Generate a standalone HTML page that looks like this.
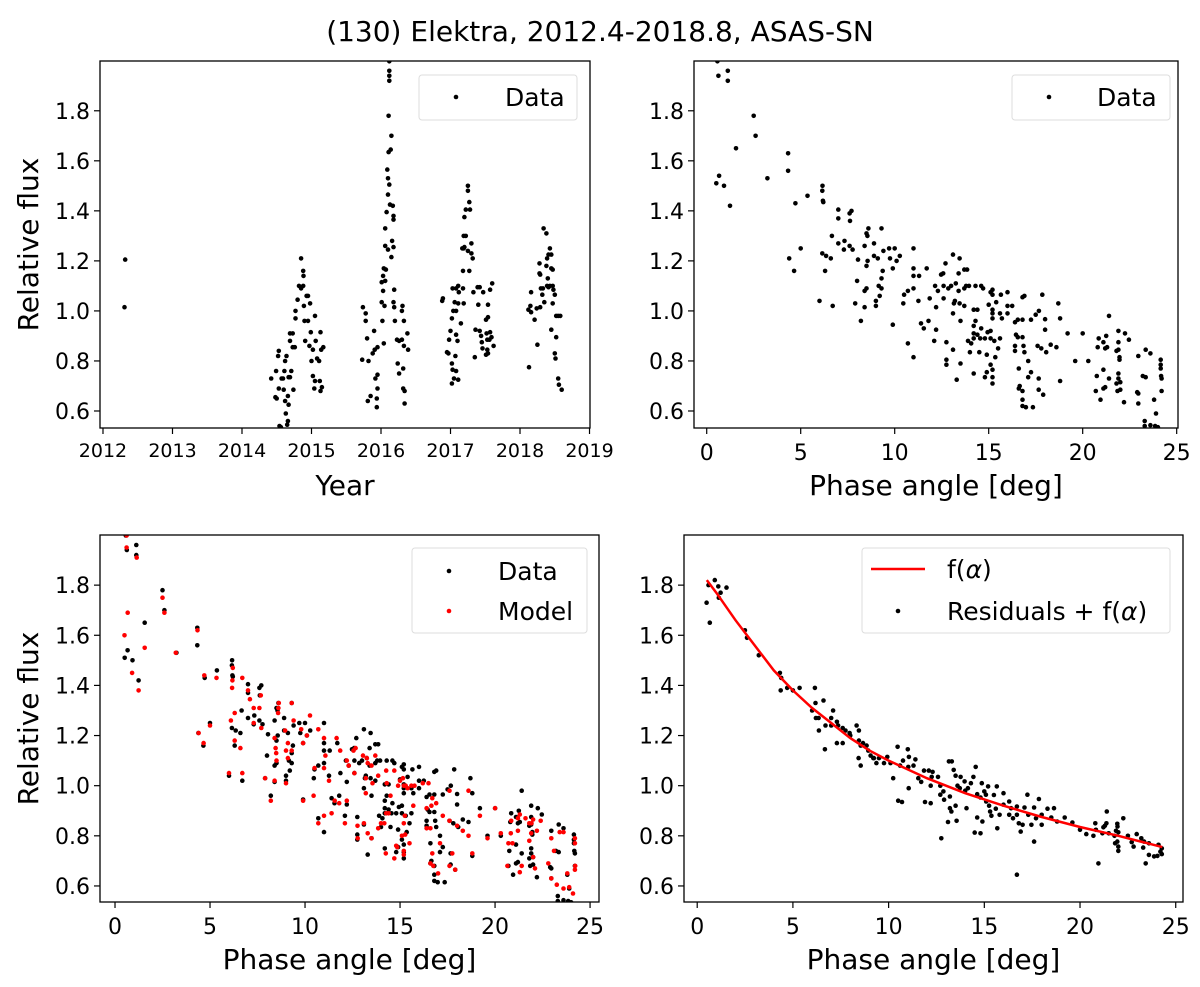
<!DOCTYPE html>
<html><head><meta charset="utf-8"><style>
html,body{margin:0;padding:0;background:#fff}
svg{display:block;font-family:"DejaVu Sans","Liberation Sans",sans-serif}
</style></head><body>
<svg id="fig" width="1200" height="987" viewBox="0 0 1200 987" xmlns="http://www.w3.org/2000/svg">
<text x="600" y="41" font-size="28" text-anchor="middle">(130) Elektra, 2012.4-2018.8, ASAS-SN</text>
</svg>
<script>
// ---- data ----
const yearT = [2012.32,2012.31,2014.42,2014.49,2014.53,2014.52,2014.48,2014.5,2014.53,2014.57,2014.59,2014.61,2014.62,2014.64,2014.67,2014.69,2014.66,2014.67,2014.62,2014.63,2014.6,2014.74,2014.71,2014.54,2014.56,2014.65,2014.66,2014.69,2014.69,2014.73,2014.73,2014.76,2014.77,2014.77,2014.8,2014.82,2014.85,2014.88,2014.885,2014.88,2014.85,2014.89,2014.9,2014.95,2014.93,2014.95,2014.98,2014.91,2014.97,2015.05,2015.0,2014.99,2015.06,2015.02,2015.13,2015.17,2015.14,2015.08,2015.11,2015.02,2015.05,2015.12,2015.04,2015.13,2015.15,
2015.73,2015.82,2015.74,2015.78,2015.78,2015.8,2015.81,2015.85,2015.9,2015.88,2015.91,2015.95,2015.92,2015.95,2015.95,2015.94,2015.94,2016.02,2016.04,2016.01,2016.03,2016.05,2016.01,2016.06,2016.03,2016.04,2016.07,2016.06,2016.06,2016.1,2016.08,2016.1,2016.09,2016.1,2016.12,2016.11,2016.14,2016.15,2016.11,2016.12,2016.12,2016.12,2016.12,2016.13,2016.17,2016.18,2016.18,2016.16,2016.18,2016.15,2016.19,2016.18,2016.19,2016.2,2016.23,2016.26,2016.3,2016.24,2016.32,2016.26,2016.3,2016.31,2016.33,2016.33,2016.38,2016.39,2016.32,2016.34,2016.34,
2016.89,2016.88,2016.95,2016.98,2017.0,2017.02,2017.03,2017.02,2017.05,2017.11,2017.08,2016.97,2017.07,2017.1,2017.08,2017.02,2017.04,2017.06,2017.08,2017.11,2017.03,2017.08,2017.11,2017.12,2017.15,2017.19,2017.18,2017.18,2017.27,2017.17,2017.19,2017.2,2017.19,2017.22,2017.2,2017.22,2017.28,2017.27,2017.25,2017.25,2017.3,2017.25,2017.3,2017.32,2017.33,2017.35,2017.36,2017.4,2017.39,2017.42,2017.42,2017.44,2017.45,2017.46,2017.47,2017.51,2017.52,2017.53,2017.51,2017.53,2017.54,2017.54,2017.54,2017.57,2017.6,2017.57,2017.59,2017.56,2017.62,
2018.13,2018.12,2018.16,2018.15,2018.16,2018.21,2018.25,2018.24,2018.29,2018.28,2018.29,2018.28,2018.3,2018.32,2018.33,2018.35,2018.34,2018.38,2018.38,2018.39,2018.41,2018.43,2018.45,2018.39,2018.41,2018.43,2018.4,2018.45,2018.47,2018.47,2018.48,2018.5,2018.47,2018.52,2018.55,2018.58,2018.45,2018.52,2018.5,2018.51,2018.55,2018.56,2018.6];
const yearFlux = [1.205,1.015,0.73,0.76,0.84,0.82,0.655,0.65,0.69,0.73,0.73,0.76,0.80,0.82,0.735,0.735,0.66,0.625,0.64,0.59,0.685,0.685,0.76,0.54,0.535,0.545,0.56,0.88,0.91,0.91,0.855,0.855,0.97,1.0,1.045,1.10,1.21,1.16,1.14,1.10,1.09,1.02,0.96,0.96,1.06,1.06,1.03,0.88,0.86,0.98,0.80,0.915,0.88,0.845,0.915,0.855,0.845,0.81,0.80,0.74,0.72,0.72,0.69,0.68,0.695,
0.805,0.80,1.015,0.99,0.96,0.89,0.64,0.66,0.92,0.83,0.845,0.855,0.73,0.745,0.69,0.615,0.65,0.96,0.87,1.035,1.08,1.02,1.115,1.12,1.14,1.17,1.165,1.33,1.26,1.245,1.395,1.465,1.565,1.53,1.505,1.635,1.645,1.70,1.78,1.92,1.94,1.96,1.998,1.425,1.42,1.38,1.365,1.28,1.255,1.215,1.085,1.035,1.015,0.96,0.885,0.88,0.885,0.79,0.77,0.75,1.0,1.02,0.96,0.86,0.91,0.845,0.69,0.68,0.63,
1.05,1.04,0.835,0.885,0.92,0.79,0.765,0.71,0.73,0.725,0.76,0.83,0.82,0.88,0.905,0.97,1.0,1.035,1.0,1.03,1.09,1.09,1.10,1.075,0.95,1.03,1.09,1.16,1.16,1.25,1.25,1.255,1.30,1.30,1.375,1.405,1.405,1.435,1.48,1.50,1.27,1.24,1.23,1.21,1.075,0.815,0.925,1.025,1.095,1.095,0.92,0.90,0.875,0.85,1.075,0.965,0.91,0.885,0.825,0.845,0.83,1.025,0.975,1.085,1.11,0.915,0.895,0.885,0.86,
0.775,1.005,0.995,1.02,1.075,0.965,0.865,1.01,1.015,1.15,1.145,1.19,1.09,1.065,1.09,1.035,1.33,1.31,1.18,1.21,1.225,1.25,1.225,1.10,1.095,1.10,1.13,1.17,1.165,1.10,1.085,1.065,1.03,0.98,0.98,0.98,0.925,0.895,0.83,0.81,0.73,0.705,0.685];

const phase = [0.57,0.62,1.12,1.12,2.5,2.6,1.56,4.33,4.33,0.66,0.51,0.92,1.24,3.23,5.36,6.16,6.15,6.18,6.2,4.72,7.0,7.0,7.6,7.7,7.62,5.0,4.39,4.65,6.0,6.7,6.15,6.35,6.6,6.3,6.66,7.0,7.33,7.3,7.6,7.76,8.05,8.0,7.9,8.2,8.4,8.4,8.5,8.5,8.56,8.5,8.6,8.55,8.4,8.9,8.9,9.1,9.3,9.4,9.36,9.3,9.3,9.2,9.0,9.0,9.15,9.7,9.75,10.0,10.27,10.1,9.9,9.9,10.7,11.0,11.0,11.0,11.0,11.3,11.7,11.0,10.7,10.5,10.46,11.26,11.86,12.2,12.15,12.3,11.4,11.55,11.8,12.2,12.1,12.6,12.47,12.58,12.7,12.6,12.85,13.0,13.1,13.45,13.4,13.7,13.85,13.25,13.4,13.7,13.8,13.95,13.2,13.15,13.45,13.7,13.1,13.5,12.75,12.75,12.75,13.1,13.3,13.5,14.3,14.6,14.7,14.2,14.4,14.3,14.2,14.2,14.4,13.9,14.07,14.2,14.0,14.5,14.6,14.55,14.8,14.94,14.9,14.2,14.8,14.9,15.1,15.2,15.2,15.0,15.2,15.2,15.2,15.4,15.65,15.7,15.6,16.0,16.0,16.25,16.0,15.1,15.1,15.3,15.6,15.5,15.35,15.1,15.2,15.2,15.2,16.55,16.8,16.4,16.8,16.9,16.45,16.55,16.8,16.4,16.4,16.85,16.9,17.1,16.6,17.25,17.1,16.6,16.65,16.8,16.8,16.8,16.98,17.35,17.25,17.5,17.67,17.85,18.0,18.0,17.6,17.8,18.06,17.66,17.66,17.9,18.3,18.6,18.8,18.7,18.8,19.2,19.6,20.0,20.3,20.85,20.8,21.1,21.25,21.2,21.3,21.4,21.9,21.9,22.25,22.46,21.8,21.9,21.96,21.96,20.75,20.7,20.95,21.1,21.1,21.2,21.4,21.9,21.8,21.9,22.0,21.85,22.0,22.2,22.9,22.96,22.96,22.96,23.35,23.6,23.2,23.35,23.8,23.9,23.3,23.3,23.6,23.85,24.0,24.15,24.15,24.15,24.17,24.2,24.2];
const flux = [1.998,1.94,1.96,1.92,1.78,1.70,1.65,1.63,1.56,1.54,1.51,1.50,1.42,1.53,1.46,1.50,1.48,1.44,1.435,1.43,1.405,1.37,1.39,1.40,1.36,1.25,1.21,1.16,1.04,1.02,1.23,1.22,1.21,1.16,1.30,1.27,1.28,1.245,1.26,1.245,1.205,1.12,1.03,0.96,1.015,1.08,1.09,1.18,1.2,1.31,1.33,1.30,1.26,1.27,1.22,1.21,1.33,1.24,1.16,1.13,1.09,1.06,1.04,1.02,1.10,1.25,1.21,1.25,1.22,1.2,1.17,0.945,0.87,0.815,1.25,1.17,1.14,1.14,1.17,1.09,1.08,1.065,1.03,1.04,1.05,1.015,1.1,1.08,0.95,0.93,0.96,0.925,0.88,1.05,1.145,1.15,1.19,1.10,1.09,1.10,1.225,1.21,1.15,1.165,1.165,1.11,1.08,1.09,1.10,1.10,1.04,1.03,1.03,1.02,0.99,0.96,0.875,0.805,0.785,0.845,0.725,0.79,1.10,1.10,1.09,1.005,1.005,0.96,0.94,0.91,0.905,0.88,0.87,0.89,0.835,0.835,0.93,0.89,0.89,0.915,0.825,0.75,0.735,0.755,1.075,1.085,1.065,1.025,1.005,0.99,0.97,1.035,1.065,0.97,0.99,1.075,1.02,1.02,0.99,0.92,0.89,0.88,0.89,0.85,0.815,0.785,0.765,0.735,0.71,0.965,0.965,0.955,1.055,1.06,0.905,0.895,0.895,0.86,0.84,0.86,0.835,0.80,0.77,0.755,0.735,0.69,0.70,0.68,0.645,0.62,0.615,0.615,0.965,0.985,1.0,1.065,0.967,0.925,0.86,0.85,0.835,0.73,0.685,0.665,0.865,0.855,0.97,1.03,0.72,0.91,0.80,0.91,0.80,0.89,0.855,0.875,0.90,0.85,0.855,0.98,0.92,0.875,0.91,0.885,0.84,0.845,0.815,0.805,0.74,0.68,0.645,0.765,0.69,0.695,0.73,0.75,0.71,0.73,0.715,0.68,0.685,0.635,0.675,0.67,0.63,0.82,0.845,0.83,0.74,0.735,0.645,0.59,0.56,0.54,0.543,0.54,0.535,0.805,0.785,0.77,0.74,0.73,0.68];

const modelPhase = [0.61,0.61,1.14,0.67,0.5,0.9,1.24,1.56,2.5,2.6,3.2,4.34,4.4,4.66,4.7,5.0,5.34,6.0,6.7,6.1,6.3,6.3,6.6,6.16,6.18,6.2,6.7,7.0,7.1,7.3,7.3,7.6,7.67,7.7,7.9,8.2,8.4,8.45,8.5,8.48,8.4,8.6,8.62,8.58,8.95,9.0,9.1,9.1,9.0,9.3,9.4,9.3,9.8,9.9,9.9,10.1,10.26,10.45,10.7,10.7,10.5,11.0,11.07,11.0,11.0,11.26,11.4,11.66,11.85,11.56,11.8,12.2,12.1,12.2,12.3,12.6,12.55,12.66,12.76,12.77,13.1,13.3,13.5,13.05,13.25,13.3,13.5,13.7,13.85,13.2,13.2,13.55,14.27,14.3,14.5,14.4,14.27,14.0,14.17,13.85,14.25,14.7,14.8,14.85,14.7,15.15,15.2,15.3,14.9,15.0,15.4,15.6,15.7,15.25,15.2,15.1,15.27,15.5,15.2,15.2,15.76,16.2,16.5,16.7,16.4,16.65,16.9,16.4,16.6,16.7,17.1,16.6,16.75,17.0,17.25,17.6,17.6,17.75,17.9,17.6,18.0,18.3,18.6,18.6,18.8,19.2,19.6,20.0,20.3,20.7,20.65,20.85,20.83,20.92,21.2,21.2,21.3,21.3,21.4,21.6,21.8,21.9,21.8,21.92,22.0,22.2,22.0,22.1,22.4,22.8,22.96,22.96,23.1,23.25,23.4,23.6,23.6,23.8,23.9,24.1,24.2,24.2,24.2,24.22];
const modelFlux = [1.998,1.95,1.91,1.69,1.60,1.45,1.38,1.55,1.75,1.69,1.53,1.62,1.21,1.17,1.44,1.24,1.43,1.05,1.05,1.26,1.29,1.18,1.15,1.39,1.42,1.47,1.43,1.38,1.345,1.31,1.25,1.31,1.36,1.23,1.03,0.94,1.19,1.15,1.10,1.13,1.02,1.31,1.33,1.29,1.22,1.14,1.17,1.11,1.01,1.33,1.26,1.14,1.225,1.17,0.94,1.2,1.28,0.96,0.85,1.225,1.07,1.19,1.12,1.07,0.88,1.02,0.89,1.19,1.14,0.94,0.93,0.94,0.85,1.10,1.08,1.05,1.14,1.15,0.84,0.79,0.85,0.81,0.79,1.12,1.11,1.09,1.08,1.12,1.04,1.03,0.97,1.01,1.06,1.01,0.96,0.89,0.89,0.85,0.85,0.83,0.73,0.71,0.76,0.755,1.06,1.03,1.0,1.0,1.0,1.02,0.99,1.0,0.92,0.88,0.85,0.80,0.805,0.77,0.74,0.725,1.0,1.01,1.01,0.95,0.91,0.92,0.93,0.83,0.83,0.73,0.77,0.69,0.68,0.65,0.88,0.86,0.98,0.73,0.665,0.68,0.84,0.82,0.98,0.80,0.73,0.88,0.79,0.91,0.81,0.77,0.68,0.86,0.81,0.77,0.82,0.87,0.885,0.655,0.68,0.87,0.85,0.81,0.78,0.85,0.865,0.82,0.715,0.67,0.86,0.69,0.63,0.79,0.74,0.605,0.815,0.815,0.59,0.65,0.595,0.57,0.79,0.77,0.665,0.68];

const resPhase = [0.49,0.66,0.59,0.92,1.1,1.22,1.53,1.13,2.49,2.6,3.22,4.32,4.39,4.36,4.7,5.0,5.35,6.15,6.18,6.0,6.2,6.34,6.36,6.6,6.67,6.7,7.0,7.1,7.0,7.3,7.36,7.3,7.6,7.6,7.75,7.96,8.0,8.33,8.45,8.45,8.54,8.66,8.43,8.54,8.85,8.94,9.06,9.23,9.36,9.2,9.5,9.76,9.93,10.1,10.47,10.24,10.5,10.7,10.6,10.75,11.0,11.06,11.03,11.3,11.4,11.05,11.55,11.7,11.85,12.1,12.3,12.25,12.2,11.9,12.2,12.58,12.7,12.86,12.75,12.7,12.9,13.1,13.15,13.3,13.2,13.2,13.28,13.5,13.55,13.4,13.5,13.6,13.72,13.76,13.97,14.07,14.0,14.14,14.3,14.43,14.55,14.63,14.8,14.63,14.5,14.8,14.9,14.87,15.0,15.08,15.1,15.2,15.3,15.37,15.25,15.5,15.65,15.6,15.68,15.8,16.0,16.0,16.3,16.3,16.4,16.5,16.7,16.7,16.8,16.9,17.0,17.1,17.25,17.3,17.46,17.6,17.6,17.7,17.85,18.0,18.0,18.3,18.5,18.64,18.8,19.2,19.6,20.0,20.33,20.8,20.83,20.7,20.96,21.17,21.22,21.3,21.4,21.38,21.5,21.8,21.88,21.95,21.96,22.0,21.95,22.0,22.0,21.83,22.26,22.5,22.7,22.96,22.8,23.2,23.35,23.43,23.3,23.6,23.6,23.87,24.04,24.1,24.2,24.27,24.27,16.7];
const resFlux = [1.73,1.65,1.80,1.82,1.795,1.77,1.79,1.75,1.62,1.59,1.52,1.45,1.43,1.38,1.39,1.38,1.39,1.39,1.33,1.30,1.27,1.27,1.22,1.34,1.145,1.24,1.27,1.30,1.24,1.255,1.24,1.17,1.17,1.23,1.22,1.21,1.2,1.24,1.22,1.18,1.16,1.17,1.11,1.08,1.16,1.14,1.12,1.11,1.09,1.11,1.11,1.09,1.115,1.09,1.155,1.03,0.94,0.935,1.08,1.10,1.145,1.115,1.075,1.08,1.105,0.99,1.03,1.015,1.06,1.06,1.055,1.035,1.0,0.935,0.93,1.035,1.0,0.977,0.79,0.964,0.944,0.855,1.097,1.097,0.957,0.91,0.897,0.92,0.86,1.063,1.04,1.0,0.99,1.035,1.017,0.91,0.98,0.99,1.01,1.035,1.075,0.966,0.953,0.873,0.813,0.81,0.857,1.01,0.977,0.964,0.937,0.997,0.897,0.88,0.92,0.963,0.997,0.908,0.83,0.884,0.97,0.924,0.937,0.884,0.91,0.87,0.917,0.884,0.85,0.817,0.844,0.913,0.964,0.884,0.844,0.913,0.777,0.87,0.947,0.884,0.844,0.908,0.873,0.91,0.857,0.873,0.853,0.824,0.807,0.85,0.824,0.8,0.69,0.81,0.834,0.84,0.897,0.85,0.81,0.8,0.82,0.848,0.837,0.814,0.777,0.757,0.74,0.77,0.87,0.8,0.775,0.807,0.757,0.79,0.777,0.69,0.753,0.724,0.77,0.718,0.72,0.764,0.737,0.75,0.727,0.645];

const curveAlpha = [0.5,1,2,3,4,5,6,7,8,9,10,12,14,16,18,20,22,24.3];
const curveF = [1.82,1.77,1.66,1.56,1.46,1.38,1.31,1.25,1.19,1.14,1.10,1.03,0.97,0.92,0.875,0.835,0.80,0.755];

const yTicks = [0.6,0.8,1.0,1.2,1.4,1.6,1.8];
const yearTicks = [2012,2013,2014,2015,2016,2017,2018,2019];
const phaseTicks = [0,5,10,15,20,25];

// ---- drawing ----
const NS = "http://www.w3.org/2000/svg";
const svg = document.getElementById('fig');
function el(tag, attrs, parent){const e=document.createElementNS(NS,tag);for(const k in attrs)e.setAttribute(k,attrs[k]);(parent||svg).appendChild(e);return e;}

function makePanel(p){
  const g = el('g',{});
  
  
  const sx = v => p.x0 + (v - p.xmin)/(p.xmax-p.xmin)*(p.x1-p.x0);
  const sy = v => p.y1 - (v - p.ymin)/(p.ymax-p.ymin)*(p.y1-p.y0);
  const cid = 'clip-'+p.name;
  const cp = el('clipPath',{id:cid},g); el('rect',{x:p.x0,y:p.y0,width:p.x1-p.x0,height:p.y1-p.y0},cp);
  const plot = el('g',{'clip-path':'url(#'+cid+')'},g);
  
  
  return {g,plot,sx,sy};
}
function drawAxes(P,p,xt,xfmt,xfs,xlabel,ylabel){
  const {g,sx,sy}=P;
  const fr = el('rect',{x:p.x0,y:p.y0,width:p.x1-p.x0,height:p.y1-p.y0,fill:'none',stroke:'#000','stroke-width':1.3},g);
  
  
  yTicks.forEach(v=>{
    const y=sy(v);
    el('line',{x1:p.x0-6,x2:p.x0,y1:y,y2:y,stroke:'#000','stroke-width':1.2},g);
    const t=el('text',{x:p.x0-10,y:y+8,'font-size':22,'text-anchor':'end'},g);
    t.textContent=v.toFixed(1);
    
    
  });
  xt.forEach(v=>{
    const x=sx(v);
    el('line',{x1:x,x2:x,y1:p.y1,y2:p.y1+6,stroke:'#000','stroke-width':1.2},g);
    const t=el('text',{x:x,y:p.y1+(xfs>20?32:29),'font-size':xfs,'text-anchor':'middle'},g);
    t.textContent=xfmt(v);
    
    
  });
  const xl=el('text',{x:(p.x0+p.x1)/2,y:p.y1+67,'font-size':28,'text-anchor':'middle'},g);
  xl.textContent=xlabel;
  
  
  if(ylabel){
    const cy=(p.y0+p.y1)/2;
    const yl=el('text',{x:0,y:0,'font-size':28,'text-anchor':'middle',transform:'translate(38,'+cy+') rotate(-90)'},g);
    yl.textContent=ylabel;
    
    
  }
}
function scatter(P,xs,ys,color,name){
  for(let i=0;i<xs.length;i++){
    const c=el('circle',{cx:P.sx(xs[i]).toFixed(1),cy:P.sy(ys[i]).toFixed(1),r:2.3,fill:color},P.plot);
    
    
  }
}
function legend(g,x,y,w,h,items){
  const lg=el('g',{},g);
  
  
  el('rect',{x:x,y:y,width:w,height:h,rx:3,fill:'#fff','fill-opacity':0.8,stroke:'#ddd','stroke-width':1},lg);
  items.forEach(it=>{
    const e=el('g',{},lg);
    
    
    if(it.line) el('line',{x1:it.mx-27,x2:it.mx+27,y1:it.my,y2:it.my,stroke:it.color,'stroke-width':2.5},e);
    else el('circle',{cx:it.mx,cy:it.my,r:2.3,fill:it.color},e);
    const t=el('text',{x:it.tx,y:it.my+9,'font-size':25},e);
    t.innerHTML=it.label;
  });
}

// Panel 1: year
const p1={name:'year-panel',x0:100,x1:590,y0:61,y1:428,xmin:2011.957,xmax:2019.007,ymin:0.532,ymax:1.999};
const P1=makePanel(p1);
scatter(P1,yearT,yearFlux,'#000','data-point');
drawAxes(P1,p1,yearTicks,v=>String(v),19,'Year','Relative flux');
legend(P1.g,419,75,158,45,[{mx:456,my:97,color:'#000',tx:505,label:'Data'}]);

// Panel 2: phase
const p2={name:'phase-panel',x0:694,x1:1178,y0:61,y1:428,xmin:-0.676,xmax:25.07,ymin:0.532,ymax:1.999};
const P2=makePanel(p2);
scatter(P2,phase,flux,'#000','data-point');
drawAxes(P2,p2,phaseTicks,v=>String(v),22,'Phase angle [deg]',null);
legend(P2.g,1012,75,158,45,[{mx:1049,my:97,color:'#000',tx:1097,label:'Data'}]);

// Panel 3: data + model
const p3={name:'model-panel',x0:100,x1:599,y0:535,y1:902,xmin:-0.79,xmax:25.47,ymin:0.536,ymax:2.0};
const P3=makePanel(p3);
scatter(P3,phase,flux,'#000','data-point');
scatter(P3,modelPhase,modelFlux,'#ff0000','model-point');
drawAxes(P3,p3,phaseTicks,v=>String(v),22,'Phase angle [deg]','Relative flux');
legend(P3.g,412,548,175,85,[{mx:449,my:571,color:'#000',tx:498,label:'Data'},{mx:449,my:611,color:'#ff0000',tx:498,label:'Model'}]);

// Panel 4: residuals
const p4={name:'residual-panel',x0:684,x1:1183,y0:535,y1:902,xmin:-0.69,xmax:25.38,ymin:0.536,ymax:2.0};
const P4=makePanel(p4);
scatter(P4,resPhase,resFlux,'#000','residual-point');
let d='';
for(let i=0;i<curveAlpha.length;i++){d+=(i?'L':'M')+P4.sx(curveAlpha[i]).toFixed(1)+','+P4.sy(curveF[i]).toFixed(1);}
const cl=el('path',{d:d,fill:'none',stroke:'#ff0000','stroke-width':2.5},P4.plot);


drawAxes(P4,p4,phaseTicks,v=>String(v),22,'Phase angle [deg]',null);
legend(P4.g,862,548,308,85,[{line:true,mx:898,my:569,color:'#ff0000',tx:947,label:'f(<tspan font-style="italic">α</tspan>)'},{mx:898,my:611,color:'#000',tx:947,label:'Residuals + f(<tspan font-style="italic">α</tspan>)'}]);
</script>
</body></html>
